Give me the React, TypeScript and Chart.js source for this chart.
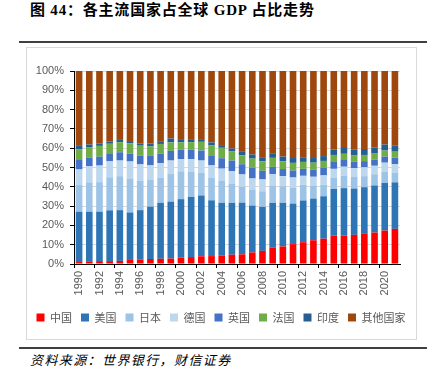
import React, { useEffect, useRef } from "react";
import { Chart, registerables } from "chart.js";

Chart.register(...registerables);

const years = [
  "1990", "1991", "1992", "1993", "1994", "1995", "1996", "1997", "1998", "1999",
  "2000", "2001", "2002", "2003", "2004", "2005", "2006", "2007", "2008", "2009",
  "2010", "2011", "2012", "2013", "2014", "2015", "2016", "2017", "2018", "2019",
  "2020", "2021",
];

const china = [1.0, 1.4, 1.5, 1.5, 1.6, 2.1, 2.2, 2.6, 2.7, 2.8, 3.3, 3.6, 4.0, 4.1, 4.3, 4.8, 5.0, 6.0, 6.8, 8.4, 9.1, 10.3, 11.3, 12.3, 13.1, 14.7, 14.7, 15.1, 15.9, 16.3, 17.3, 18.2];
const usa = [26.1, 25.7, 25.6, 26.3, 26.3, 24.6, 25.7, 27.1, 29.0, 29.5, 30.3, 31.2, 31.5, 28.9, 27.4, 26.9, 26.8, 24.3, 22.8, 23.3, 22.6, 21.0, 21.6, 21.6, 22.0, 24.2, 24.6, 24.0, 23.9, 24.4, 24.7, 24.1];
const japan = [13.8, 15.2, 15.3, 17.1, 17.6, 17.6, 15.2, 13.8, 13.0, 14.3, 14.4, 12.9, 11.8, 11.7, 11.3, 10.0, 8.2, 8.3, 8.1, 9.0, 8.6, 8.3, 8.2, 6.5, 6.0, 5.9, 6.5, 6.0, 5.7, 5.8, 5.9, 5.1];
const germany = [8.1, 8.3, 8.6, 8.3, 8.1, 8.8, 8.5, 7.6, 7.5, 7.0, 6.3, 6.6, 6.3, 6.4, 6.4, 6.5, 6.4, 5.7, 6.1, 5.9, 5.2, 5.2, 4.6, 4.8, 4.8, 4.5, 4.6, 4.6, 4.6, 4.4, 4.6, 4.4];
const uk = [4.9, 4.4, 4.6, 3.8, 4.3, 4.1, 4.6, 4.9, 5.0, 5.0, 5.0, 5.0, 5.2, 5.2, 5.4, 5.4, 5.3, 5.6, 4.5, 3.7, 3.7, 3.7, 3.6, 3.6, 3.9, 3.9, 3.5, 3.3, 3.2, 3.2, 3.2, 3.3];
const france = [5.6, 5.6, 5.6, 5.3, 5.2, 5.3, 5.1, 4.9, 5.0, 4.4, 3.7, 3.8, 4.5, 5.3, 5.4, 4.7, 4.6, 4.7, 4.9, 4.7, 4.0, 3.9, 3.6, 3.7, 3.6, 3.3, 3.2, 3.2, 3.2, 3.1, 3.1, 3.1];
const india = [1.7, 1.3, 1.3, 1.2, 1.2, 1.2, 1.2, 1.5, 1.1, 2.0, 1.3, 1.2, 1.0, 1.4, 1.4, 1.5, 1.8, 2.1, 1.8, 2.4, 2.5, 2.5, 2.4, 2.4, 2.5, 2.8, 3.0, 3.2, 3.1, 3.2, 3.1, 3.3];
const others = [38.8, 38.1, 37.5, 36.5, 35.7, 36.3, 37.5, 37.6, 36.7, 35.0, 35.7, 35.7, 35.7, 37.0, 38.4, 40.2, 41.9, 43.3, 45.0, 42.6, 44.3, 45.1, 44.7, 45.1, 44.1, 40.7, 39.9, 40.6, 40.4, 39.6, 38.1, 38.5];

const seriesNames = ["中国", "美国", "日本", "德国", "英国", "法国", "印度", "其他国家"];
const seriesColors = ["#FF0000", "#2E75B6", "#9DC3E6", "#BDD7EE", "#4472C4", "#70AD47", "#255E91", "#9E480E"];
const seriesValues = [china, usa, japan, germany, uk, france, india, others];
const yTicks = [0, 10, 20, 30, 40, 50, 60, 70, 80, 90, 100];

export default function App() {
  const canvasRef = useRef<HTMLCanvasElement | null>(null);

  useEffect(() => {
    if (!canvasRef.current) return;
    const chart = new Chart(canvasRef.current, {
      type: "bar",
      data: {
        labels: years,
        datasets: seriesNames.map((name, i) => ({
          label: name,
          data: seriesValues[i],
          backgroundColor: seriesColors[i],
          borderWidth: 0,
          categoryPercentage: 0.65,
          barPercentage: 1,
        })),
      },
      options: {
        responsive: false,
        animation: false,
        layout: { padding: { left: 0, right: 0, top: 23, bottom: 5 } },
        plugins: {
          tooltip: { enabled: false },
          legend: {
            position: "bottom",
            labels: {
              boxWidth: 8,
              boxHeight: 8,
              padding: 9,
              color: "#595959",
              font: { family: "'Noto Sans CJK SC'", size: 11 },
            },
          },
        },
        scales: {
          x: {
            stacked: true,
            afterFit: (scale: any) => {
              scale.height = 39;
            },
            grid: {
              offset: true,
              drawOnChartArea: false,
              drawTicks: true,
              tickLength: 4,
              tickColor: (ctx: any) => (ctx.index % 2 === 0 ? "#000000" : "rgba(0,0,0,0)"),
            },
            border: { color: "#000000", width: 1 },
            ticks: {
              autoSkip: false,
              maxRotation: 90,
              minRotation: 90,
              padding: 3,
              color: "#595959",
              font: { family: "'Liberation Sans', Arial", size: 11 },
              callback: (_v: any, i: number) => (i % 2 === 0 ? years[i] : ""),
            },
          },
          y: {
            stacked: true,
            min: 0,
            max: 100,
            afterFit: (scale: any) => {
              scale.width = 47;
            },
            afterBuildTicks: (scale: any) => {
              scale.ticks = yTicks.map((v) => ({ value: v }));
            },
            grid: {
              color: "#D9D9D9",
              tickColor: "#000000",
              tickLength: 4,
            },
            border: { color: "#000000", width: 1 },
            ticks: {
              padding: 6,
              color: "#595959",
              font: { family: "'Liberation Sans', Arial", size: 11 },
              callback: (v: any) => v + "%",
            },
          },
          rightSpace: {
            position: "right",
            display: true,
            min: 0,
            max: 100,
            afterFit: (scale: any) => {
              scale.width = 15;
            },
            grid: { display: false, drawOnChartArea: false },
            border: { display: false },
            ticks: { display: false },
          },
        },
      },
    });
    return () => chart.destroy();
  }, []);

  return (
    <div style={{ position: "absolute", left: 0, top: 0, width: 437, height: 374, background: "#fff" }}>
      <div
        style={{
          position: "absolute",
          left: 30,
          top: 1,
          fontFamily: "'Liberation Serif', 'Noto Sans CJK SC', serif",
          fontWeight: "bold",
          fontSize: 15,
          letterSpacing: "0.8px",
          color: "#000",
          whiteSpace: "nowrap",
          lineHeight: "18px",
        }}
      >
        图 44：各主流国家占全球 GDP 占比走势
      </div>
      <div style={{ position: "absolute", left: 19, top: 41, width: 408, height: 2, background: "#404040" }} />
      <div
        style={{
          position: "absolute",
          left: 26,
          top: 47,
          width: 389,
          height: 291,
          border: "1px solid #D9D9D9",
        }}
      />
      <canvas
        ref={canvasRef}
        width={388}
        height={290}
        style={{ position: "absolute", left: 27, top: 48, width: 388, height: 290 }}
      />
      <div style={{ position: "absolute", left: 19, top: 347, width: 408, height: 2, background: "#404040" }} />
      <div
        style={{
          position: "absolute",
          left: 30,
          top: 352,
          fontFamily: "'Noto Sans CJK SC', sans-serif",
          fontStyle: "italic",
          fontSize: 13,
          letterSpacing: "1.4px",
          color: "#000",
          whiteSpace: "nowrap",
          lineHeight: "16px",
        }}
      >
        资料来源：世界银行，财信证券
      </div>
    </div>
  );
}
